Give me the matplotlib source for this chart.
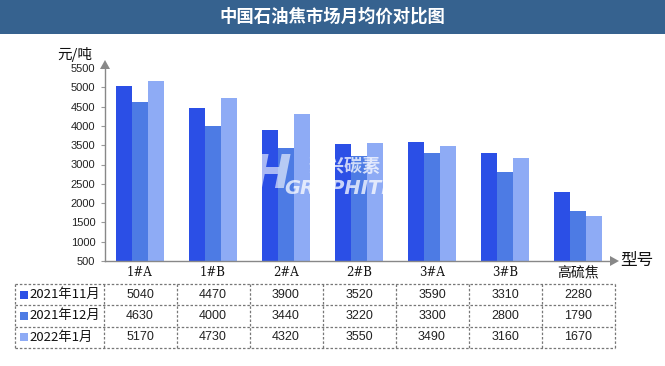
import matplotlib
matplotlib.use("Agg")
import numpy as np
import matplotlib.pyplot as plt
from matplotlib.patches import Rectangle, Polygon

categories = ["1#A", "1#B", "2#A", "2#B", "3#A", "3#B", "高硫焦"]
series_names = ["2021年11月", "2021年12月", "2022年1月"]
nov_2021 = [5040, 4470, 3900, 3520, 3590, 3310, 2280]
dec_2021 = [4630, 4000, 3440, 3220, 3300, 2800, 1790]
jan_2022 = [5170, 4730, 4320, 3550, 3490, 3160, 1670]
y_ticks = list(range(500, 5501, 500))

series = [nov_2021, dec_2021, jan_2022]
colors = ["#2b4fe6", "#4d7be4", "#8eabf5"]
cjk = ["Noto Sans CJK SC", "DejaVu Sans"]
W, H = 665, 366

fig = plt.figure(figsize=(W / 100, H / 100), dpi=100)
fig.patch.set_facecolor("white")

# chart area in pixel terms: x 105..610, y 68..261
step = 73.0
x0 = 140.0
ax = fig.add_axes([105 / W, 1 - 261 / H, (610 - 105) / W, (261 - 68) / H])
x = np.arange(len(categories))
bw = 16 / step
for k, (vals, c) in enumerate(zip(series, colors)):
    ax.bar(x + (k - 1) * bw, vals, width=bw, color=c, label=series_names[k], zorder=2)

ax.set_xlim((105 - x0) / step, (610 - x0) / step)
ax.set_ylim(500, 5500)
ax.set_yticks(y_ticks)
ax.set_yticklabels([str(v) for v in y_ticks], family="Liberation Sans", fontsize=8, color="#222222")
ax.set_xticks([])
ax.tick_params(axis="y", length=3, color="#999999", pad=4)
for s in ["top", "right"]:
    ax.spines[s].set_visible(False)
for s in ["left", "bottom"]:
    ax.spines[s].set_color("#888888")
    ax.spines[s].set_linewidth(1)
ax.set_facecolor("none")

# overlay in pixel coordinates for title bar, arrows, table
ov = fig.add_axes([0, 0, 1, 1], zorder=5)
ov.set_xlim(0, W)
ov.set_ylim(H, 0)
ov.axis("off")
ov.patch.set_alpha(0)

ov.add_patch(Rectangle((0, 0), W, 34, color="#36628f", lw=0))
ov.text(W / 2, 17, "中国石油焦市场月均价对比图", color="white", fontsize=12.5,
        family=cjk, ha="center", va="center", weight="bold")

# axis arrows
ov.add_patch(Polygon([[100, 69], [110, 69], [105, 60]], closed=True, color="#888888", lw=0))
ov.add_patch(Polygon([[610, 256], [610, 266], [619, 261]], closed=True, color="#888888", lw=0))
ov.text(75, 55, "元/吨", fontsize=10.5, family=cjk, ha="center", va="center", color="#111111")
ov.text(637, 260, "型号", fontsize=12, family=cjk, ha="center", va="center", color="#111111")

# watermark
ov.text(345, 166, "聚兴碳素", fontsize=13, family=cjk, ha="center", va="center",
        color="white", alpha=0.75, weight="bold")
ov.text(340, 189, "GRAPHITE", fontsize=14, family="DejaVu Sans", ha="center", va="center",
        color="white", alpha=0.75, weight="bold", style="italic")
ov.text(272, 176, "H", fontsize=34, family="DejaVu Sans", ha="center", va="center",
        color="white", alpha=0.6, weight="bold", style="italic")

# category labels under the axis
for i, cat in enumerate(categories):
    cx = x0 + step * i
    if cat.isascii():
        ov.text(cx, 272, cat, fontsize=8.5, family="DejaVu Serif", ha="center", va="center", color="#111111")
    else:
        ov.text(cx, 273, cat, fontsize=10, family=cjk, ha="center", va="center", color="#111111")

# data table
left, first_col = 15, x0 - step / 2
right = x0 + step * (len(categories) - 0.5)
rows_y = [284, 305, 326.5, 348]
dash = dict(color="#777777", lw=0.9, ls=(0, (2, 1.5)))
for yy in rows_y:
    ov.plot([left, right], [yy, yy], **dash)
ov.plot([left, left], [rows_y[0], rows_y[-1]], **dash)
for j in range(len(categories) + 1):
    xx = first_col + step * j
    ov.plot([xx, xx], [rows_y[0], rows_y[-1]], **dash)

for r, (name, vals, c) in enumerate(zip(series_names, series, colors)):
    cy = (rows_y[r] + rows_y[r + 1]) / 2
    ov.add_patch(Rectangle((20, cy - 4), 8, 8, color=c, lw=0))
    ov.text(29, cy, name, fontsize=9.5, family=cjk, ha="left", va="center", color="#111111")
    for j, v in enumerate(vals):
        ov.text(x0 + step * j, cy, str(v), fontsize=9, family="Liberation Sans",
                ha="center", va="center", color="#222222")

fig.savefig("out.png", dpi=100)
